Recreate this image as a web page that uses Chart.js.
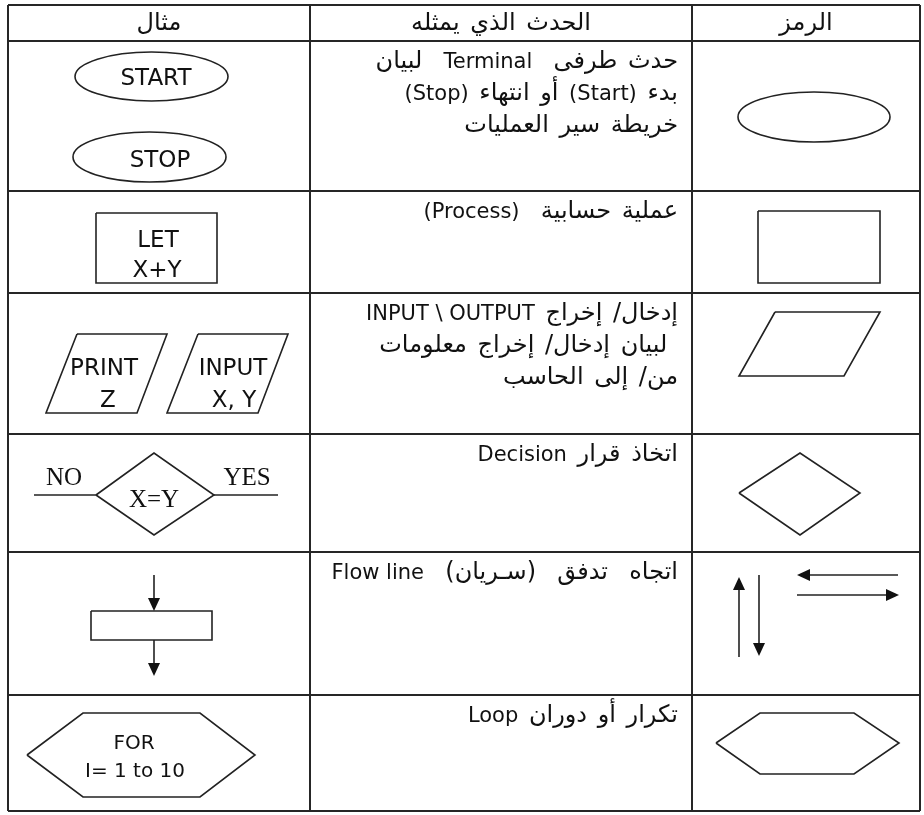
<!DOCTYPE html>
<html>
<head>
<meta charset="utf-8">
<script src="https://cdn.jsdelivr.net/npm/chart.js@4/dist/chart.umd.min.js"></script>
<style>
    body { margin: 0; background: #fff; }
</style>
</head>
<body>
<canvas id="flow-table" width="924" height="815"></canvas>
<script>
// table content (right to left, like the original)
const headers = ['الرمز', 'الحدث الذي يمثله', 'مثال'];
const descriptions = [
    ['حدث طرفى  Terminal  لبيان', 'بدء (Start) أو انتهاء (Stop)', 'خريطة سير العمليات'],
    ['عملية حسابية  (Process)'],
    ['إدخال/ إخراج INPUT \\ OUTPUT', ' لبيان إدخال/ إخراج معلومات', 'من/ إلى الحاسب'],
    ['اتخاذ قرار Decision'],
    ['اتجاه  تدفق  (سـريان)  Flow line'],
    ['تكرار أو دوران Loop']
];
const terminalLabels = ['START', 'STOP'];
const processLabels = ['LET', 'X+Y'];
const printLabels = ['PRINT', 'Z'];
const inputLabels = ['INPUT', 'X, Y'];
const decisionLabels = ['NO', 'X=Y', 'YES'];
const loopLabels = ['FOR', 'I= 1 to 10'];

// layout of the sheet (pixels in the value space of the scales)
const colEdges = [8, 310, 692, 920];
const rowEdges = [5, 41, 191, 293, 434, 552, 695, 811];

const outlines = [
    // process
    [[758,211],[880,211],[880,283],[758,283],[758,211]],
    [[96,213],[217,213],[217,283],[96,283],[96,213]],
    // input / output
    [[775,312],[880,312],[844,376],[739,376],[775,312]],
    [[77,334],[167,334],[137,413],[46,413],[77,334]],
    [[198,334],[288,334],[258,413],[167,413],[198,334]],
    // decision
    [[739,493],[800,453],[860,493],[800,535],[739,493]],
    [[96,495],[154,453],[214,495],[154,535],[96,495]],
    [[34,495],[96,495]],
    [[214,495],[278,495]],
    // flow line
    [[91,611],[212,611],[212,640],[91,640],[91,611]],
    [[154,575],[154,600]],
    [[154,640],[154,665]],
    [[739,657],[739,588]],
    [[759,575],[759,645]],
    [[898,575],[808,575]],
    [[797,595],[888,595]],
    // loop
    [[716,743],[760,713],[854,713],[899,743],[854,774],[760,774],[716,743]],
    [[27,755],[83,713],[200,713],[255,755],[200,797],[83,797],[27,755]]
];

// [x, y, direction] of each arrow tip
const arrowTips = [
    [154, 611, 'down'], [154, 676, 'down'],
    [739, 577, 'up'], [759, 656, 'down'],
    [797, 575, 'left'], [899, 595, 'right']
];

const ellipses = [
    [814, 117, 76, 25],
    [151.5, 76.5, 76.5, 24.5],
    [149.5, 157, 76.5, 25]
];

function line(pts, width, color) {
    return {
        data: pts.map(p => ({x: p[0], y: p[1]})),
        showLine: true,
        borderColor: color,
        borderWidth: width,
        pointRadius: 0,
        fill: false,
        clip: false
    };
}

const datasets = [];
rowEdges.forEach(v => datasets.push(line([[colEdges[0], v], [colEdges[3], v]], 2, '#262626')));
colEdges.forEach(v => datasets.push(line([[v, rowEdges[0]], [v, rowEdges[rowEdges.length - 1]]], 2, '#262626')));
outlines.forEach(o => datasets.push(line(o, 1.6, '#222')));

const arabicFont = '24px "DejaVu Sans"';
const latinFont = '21px "DejaVu Sans"';

const tablePlugin = {
    id: 'tableText',
    afterDatasetsDraw(chart) {
        const ctx = chart.ctx;
        const sx = chart.scales.x, sy = chart.scales.y;
        const px = v => sx.getPixelForValue(v);
        const py = v => sy.getPixelForValue(v);

        ctx.save();
        ctx.fillStyle = '#111';
        ctx.strokeStyle = '#222';

        // ellipses
        ctx.lineWidth = 1.6;
        ellipses.forEach(e => {
            ctx.beginPath();
            ctx.ellipse(px(e[0]), py(e[1]), px(e[0] + e[2]) - px(e[0]), py(e[1] + e[3]) - py(e[1]), 0, 0, Math.PI * 2);
            ctx.stroke();
        });

        // arrow heads
        arrowTips.forEach(a => {
            const x = px(a[0]), y = py(a[1]);
            const len = 13, half = 6;
            ctx.beginPath();
            ctx.moveTo(x, y);
            if (a[2] === 'down') { ctx.lineTo(x - half, y - len); ctx.lineTo(x + half, y - len); }
            if (a[2] === 'up') { ctx.lineTo(x - half, y + len); ctx.lineTo(x + half, y + len); }
            if (a[2] === 'left') { ctx.lineTo(x + len, y - half); ctx.lineTo(x + len, y + half); }
            if (a[2] === 'right') { ctx.lineTo(x - len, y - half); ctx.lineTo(x - len, y + half); }
            ctx.closePath();
            ctx.fill();
        });

        ctx.textBaseline = 'alphabetic';

        function text(str, x, y, font, align) {
            ctx.font = font;
            ctx.textAlign = align;
            ctx.direction = 'ltr';
            ctx.wordSpacing = '0px';
            ctx.fillText(str, px(x), py(y));
        }

        // split an Arabic line into Arabic / Latin runs, laid out right to left
        function runs(str) {
            return str.split(/(\(?[A-Za-z](?:[A-Za-z \\]*[A-Za-z])?\)?)/).filter(s => s.length);
        }
        function setRun(s) {
            const latin = /[A-Za-z]/.test(s);
            ctx.font = latin ? latinFont : arabicFont;
            ctx.direction = latin ? 'ltr' : 'rtl';
            ctx.wordSpacing = latin ? '0px' : '3px';
        }
        function width(str) {
            return runs(str).reduce((w, s) => { setRun(s); return w + ctx.measureText(s).width; }, 0);
        }
        function mixed(str, xRight, y) {
            let cur = px(xRight);
            runs(str).forEach(s => {
                setRun(s);
                ctx.textAlign = 'right';
                ctx.fillText(s, cur, py(y));
                cur -= ctx.measureText(s).width;
            });
        }

        // headers
        for (let i = 0; i < 3; i++) {
            const l = colEdges[2 - i], r = colEdges[3 - i];
            const w = width(headers[i]);
            mixed(headers[i], (l + r) / 2 + w / 2, 30);
        }

        // descriptions
        descriptions.forEach((lines, i) => {
            lines.forEach((s, j) => mixed(s, colEdges[2] - 14, rowEdges[i + 1] + 26.5 + j * 32));
        });

        // examples
        const exFont = '23px "DejaVu Sans"';
        text(terminalLabels[0], 156, 85, exFont, 'center');
        text(terminalLabels[1], 160, 167, exFont, 'center');
        text(processLabels[0], 158, 247, exFont, 'center');
        text(processLabels[1], 157, 277, exFont, 'center');
        text(printLabels[0], 104, 375, exFont, 'center');
        text(printLabels[1], 108, 407, exFont, 'center');
        text(inputLabels[0], 233, 375, exFont, 'center');
        text(inputLabels[1], 234, 407, exFont, 'center');
        const serif = '25px "Liberation Serif"';
        text(decisionLabels[0], 64, 485, serif, 'center');
        text(decisionLabels[1], 154, 507, serif, 'center');
        text(decisionLabels[2], 247, 485, serif, 'center');
        const loopFont = '20px "DejaVu Sans"';
        text(loopLabels[0], 134, 749, loopFont, 'center');
        text(loopLabels[1], 135, 777, loopFont, 'center');

        ctx.restore();
    }
};

new Chart(document.querySelector('#flow-table').getContext('2d'), {
    type: 'scatter',
    data: { datasets: datasets },
    options: {
        responsive: false,
        animation: false,
        events: [],
        layout: { padding: 0 },
        plugins: { legend: { display: false }, tooltip: { enabled: false } },
        scales: {
            x: { type: 'linear', min: 0, max: 924, display: false },
            y: { type: 'linear', min: 0, max: 815, reverse: true, display: false }
        }
    },
    plugins: [tablePlugin]
});
</script>
</body>
</html>
